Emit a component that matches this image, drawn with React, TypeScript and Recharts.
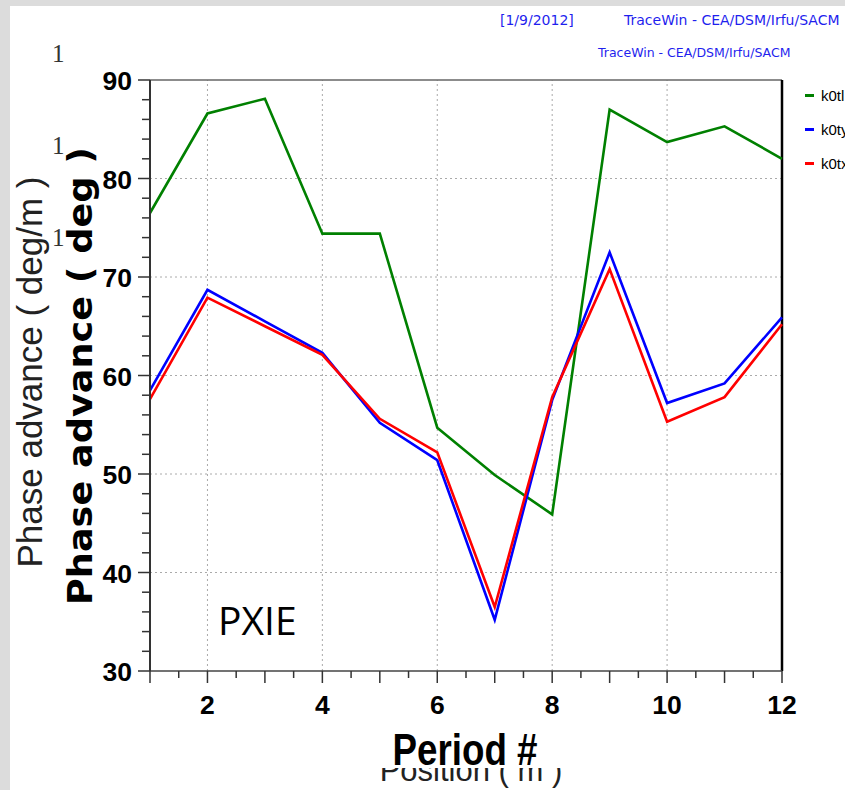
import React from 'react';
import { LineChart, Line, XAxis, YAxis, ReferenceLine, Legend } from 'recharts';

const periods = [1, 2, 3, 4, 5, 6, 7, 8, 9, 10, 11, 12];
const k0tl = [76.5, 86.6, 88.1, 74.4, 74.4, 54.7, 49.9, 45.9, 87.0, 83.7, 85.3, 82.0];
const k0ty = [58.5, 68.7, 65.5, 62.3, 55.2, 51.4, 35.2, 57.5, 72.5, 57.2, 59.2, 65.9];
const k0tx = [57.6, 67.9, 65.0, 62.1, 55.6, 52.2, 36.5, 57.8, 70.8, 55.3, 57.8, 65.2];

const xTicks = [1, 1.5, 2, 2.5, 3, 3.5, 4, 4.5, 5, 5.5, 6, 6.5, 7, 7.5, 8, 8.5, 9, 9.5, 10, 10.5, 11, 11.5, 12];
const yTicks = [30, 32, 34, 36, 38, 40, 42, 44, 46, 48, 50, 52, 54, 56, 58, 60, 62, 64, 66, 68, 70, 72, 74, 76, 78, 80, 82, 84, 86, 88, 90];
const xGrid = [2, 4, 6, 8, 10];
const yGrid = [40, 50, 60, 70, 80];

const series = [
  { key: 'k0tl', color: '#008000' },
  { key: 'k0ty', color: '#0000ff' },
  { key: 'k0tx', color: '#ff0000' },
];

const data = periods.map((p, i) => ({
  period: p,
  k0tl: k0tl[i],
  k0ty: k0ty[i],
  k0tx: k0tx[i],
}));

const tickFont = "'Liberation Sans', Arial, sans-serif";

// tickSize/tickMargin are 0 so x,y arrive on the axis line itself
const YTick = ({ x, y, payload }: any) => {
  const v = payload.value;
  const major = v % 10 === 0;
  return (
    <g>
      <line x1={x - (major ? 12 : 8)} x2={x} y1={y} y2={y} stroke="#333" strokeWidth={1.5} />
      {major && (
        <text x={x - 18} y={y + 10} textAnchor="end" fontFamily={tickFont} fontWeight="bold" fontSize={26.5} fill="#000">
          {v}
        </text>
      )}
    </g>
  );
};

const XTick = ({ x, y, payload }: any) => {
  const v = payload.value;
  const major = Number.isInteger(v);
  return (
    <g>
      <line x1={x} x2={x} y1={y} y2={y + (major ? 12 : 7)} stroke="#333" strokeWidth={1.5} />
      {major && v % 2 === 0 && (
        <text x={x} y={y + 43} textAnchor="middle" fontFamily={tickFont} fontWeight="bold" fontSize={26.5} fill="#000">
          {v}
        </text>
      )}
    </g>
  );
};

// legend keeps the series order (recharts sorts the payload by name otherwise)
const renderLegend = () => (
  <div>
    {series.map((s) => (
      <div key={s.key} style={{ display: 'flex', alignItems: 'center', height: 34 }}>
        <span style={{ display: 'inline-block', width: 9, height: 3, background: s.color, marginRight: 7 }} />
        <span style={{ fontFamily: tickFont, fontSize: 15, color: '#000', whiteSpace: 'nowrap' }}>{s.key}</span>
      </div>
    ))}
  </div>
);

export default function App() {
  return (
    <div style={{ position: 'absolute', left: 0, top: 0, width: 845, height: 790, overflow: 'hidden', background: '#dcdcdc' }}>
      <div style={{ position: 'absolute', left: 10, top: 6, right: 0, bottom: 0, background: '#fff' }} />

      <svg width={845} height={790} style={{ position: 'absolute', left: 0, top: 0 }}>
        <defs>
          <clipPath id="posClip">
            <rect x={0} y={768} width={845} height={30} />
          </clipPath>
        </defs>
        <text x={500} y={25} fontFamily="'DejaVu Sans', sans-serif" fontSize={14} fill="#1f1fee">[1/9/2012]</text>
        <text x={624} y={25} fontFamily="'DejaVu Sans', sans-serif" fontSize={14} fill="#1f1fee">TraceWin - CEA/DSM/Irfu/SACM</text>
        <text x={598} y={57} fontFamily="'DejaVu Sans', sans-serif" fontSize={12.5} fill="#1f1fee">TraceWin - CEA/DSM/Irfu/SACM</text>

        <text x={42} y={372} transform="rotate(-90 42 372)" textAnchor="middle" fontFamily={tickFont} fontSize={35} fill="#222">
          Phase advance ( deg/m )
        </text>
        <text x={52} y={62} fontFamily="'Liberation Serif', serif" fontSize={25} fill="#333">1</text>
        <text x={52} y={154} fontFamily="'Liberation Serif', serif" fontSize={25} fill="#333">1</text>
        <text x={52} y={246} fontFamily="'Liberation Serif', serif" fontSize={25} fill="#333">1</text>
        <text x={471} y={781} textAnchor="middle" clipPath="url(#posClip)" fontFamily={tickFont} fontSize={31} fill="#222">
          Position ( m )
        </text>
      </svg>

      <div style={{ position: 'absolute', left: 0, top: 0 }}>
        <LineChart width={845} height={790} data={data} margin={{ top: 80, right: 63, bottom: 0, left: 0 }}>
          <XAxis
            dataKey="period"
            type="number"
            domain={[1, 12]}
            ticks={xTicks}
            interval={0}
            height={119}
            tickSize={0}
            tickMargin={0}
            tickLine={false}
            tick={<XTick />}
            axisLine={{ stroke: '#444', strokeWidth: 1.5 }}
          />
          <YAxis
            type="number"
            domain={[30, 90]}
            ticks={yTicks}
            interval={0}
            width={150}
            tickSize={0}
            tickMargin={0}
            tickLine={false}
            tick={<YTick />}
            axisLine={{ stroke: '#333', strokeWidth: 2 }}
          />
          {yGrid.map((v) => (
            <ReferenceLine key={'y' + v} y={v} stroke="#aaa" strokeDasharray="2 3" />
          ))}
          {xGrid.map((v) => (
            <ReferenceLine key={'x' + v} x={v} stroke="#aaa" strokeDasharray="2 3" />
          ))}
          <ReferenceLine y={90} stroke="#666" strokeWidth={1.5} />
          <ReferenceLine x={12} stroke="#000" strokeWidth={2.5} />
          {series.map((s) => (
            <Line
              key={s.key}
              dataKey={s.key}
              type="linear"
              stroke={s.color}
              strokeWidth={2.6}
              dot={false}
              isAnimationActive={false}
            />
          ))}
          <Legend
            layout="horizontal"
            verticalAlign="middle"
            align="center"
            content={renderLegend}
            wrapperStyle={{ position: 'absolute', left: 805, top: 78, width: 80 }}
          />
        </LineChart>
      </div>

      <svg width={845} height={790} style={{ position: 'absolute', left: 0, top: 0, pointerEvents: 'none' }}>
        <text
          x={92}
          y={376}
          transform="rotate(-90 92 376)"
          textAnchor="middle"
          fontFamily="'DejaVu Sans', sans-serif"
          fontWeight="bold"
          fontSize={34}
          textLength={458}
          lengthAdjust="spacingAndGlyphs"
          fill="#000"
        >
          Phase advance ( deg )
        </text>
        <text
          x={465}
          y={765}
          textAnchor="middle"
          fontFamily={tickFont}
          fontWeight="bold"
          fontSize={44}
          textLength={145}
          lengthAdjust="spacingAndGlyphs"
          fill="#000"
        >
          Period #
        </text>
        <text x={218} y={635} fontFamily="'Open Sans', sans-serif" fontSize={39} fill="#000">PXIE</text>
      </svg>
    </div>
  );
}
